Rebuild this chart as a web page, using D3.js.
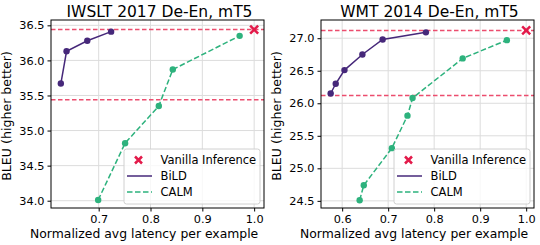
<!DOCTYPE html>
<html>
<head>
<meta charset="utf-8">
<script src="https://cdn.jsdelivr.net/npm/d3@7"></script>
<style>
body { margin: 0; background: #fff; }
svg { font-family: "DejaVu Sans", sans-serif; }
</style>
</head>
<body>
<svg id="fig" width="540" height="245"></svg>
<script>
var titles = ["IWSLT 2017 De-En, mT5", "WMT 2014 De-En, mT5"];

var iwsltBild = [[0.627, 35.67], [0.638, 36.13], [0.678, 36.28], [0.724, 36.41]];
var iwsltCalm = [[0.699, 34.01], [0.751, 34.82], [0.816, 35.35], [0.843, 35.87], [0.972, 36.35]];
var iwsltVanilla = [1.0, 36.44];

var wmtBild = [[0.575, 26.15], [0.586, 26.30], [0.605, 26.51], [0.644, 26.75], [0.688, 26.98], [0.782, 27.09]];
var wmtCalm = [[0.638, 24.51], [0.647, 24.74], [0.708, 25.31], [0.742, 25.81], [0.753, 26.08], [0.862, 26.69], [0.958, 26.97]];
var wmtVanilla = [1.0, 27.12];

var iwsltXTicks = [0.7, 0.8, 0.9, 1.0], iwsltYTicks = [34.0, 34.5, 35.0, 35.5, 36.0, 36.5];
var wmtXTicks = [0.6, 0.7, 0.8, 0.9, 1.0], wmtYTicks = [24.5, 25.0, 25.5, 26.0, 26.5, 27.0];

var panels = [
	{left: 51, bild: iwsltBild, calm: iwsltCalm, vanilla: iwsltVanilla,
	 xdom: [0.608, 1.019], ydom: [33.896, 36.576], xt: iwsltXTicks, yt: iwsltYTicks},
	{left: 321, bild: wmtBild, calm: wmtCalm, vanilla: wmtVanilla,
	 xdom: [0.554, 1.017], ydom: [24.39, 27.28], xt: wmtXTicks, yt: wmtYTicks}
];

var purple = "#46287a", green = "#2db27d", red = "#e31a4a", refRed = "#ec4d6e";
var vis = d3.select("#fig"),
	w = 213, h = 188, plotTop = 20;

panels.forEach(function(p, i){
	var g = vis.append("g").attr("transform", "translate(" + p.left + "," + plotTop + ")");
	var x = d3.scaleLinear().domain(p.xdom).range([0, w]),
		y = d3.scaleLinear().domain(p.ydom).range([h, 0]);

	// grid
	g.selectAll(".gx").data(p.xt).enter().append("line")
		.attr("x1", function(d){return x(d);}).attr("x2", function(d){return x(d);})
		.attr("y1", 0).attr("y2", h).attr("stroke", "#dcdcdc").attr("stroke-width", 1);
	g.selectAll(".gy").data(p.yt).enter().append("line")
		.attr("y1", function(d){return y(d);}).attr("y2", function(d){return y(d);})
		.attr("x1", 0).attr("x2", w).attr("stroke", "#dcdcdc").attr("stroke-width", 1);

	// reference lines: vanilla and vanilla - 1
	[p.vanilla[1], p.vanilla[1] - 1].forEach(function(v){
		g.append("line").attr("x1", 0).attr("x2", w)
			.attr("y1", y(v)).attr("y2", y(v))
			.attr("stroke", refRed).attr("stroke-width", 1.5).attr("stroke-dasharray", "4.5,2.5");
	});

	var line = d3.line().x(function(d){return x(d[0]);}).y(function(d){return y(d[1]);});

	g.append("path").datum(p.calm).attr("d", line).attr("fill", "none")
		.attr("stroke", green).attr("stroke-width", 1.5).attr("stroke-dasharray", "5.5,2.5");
	g.selectAll(".pc").data(p.calm).enter().append("circle")
		.attr("cx", function(d){return x(d[0]);}).attr("cy", function(d){return y(d[1]);})
		.attr("r", 3.2).attr("fill", green);

	g.append("path").datum(p.bild).attr("d", line).attr("fill", "none")
		.attr("stroke", purple).attr("stroke-width", 1.5);
	g.selectAll(".pb").data(p.bild).enter().append("circle")
		.attr("cx", function(d){return x(d[0]);}).attr("cy", function(d){return y(d[1]);})
		.attr("r", 3.2).attr("fill", purple);

	// vanilla marker
	var vx = x(p.vanilla[0]), vy = y(p.vanilla[1]), s = 4;
	g.append("path").attr("d", "M" + (vx - s) + "," + (vy - s) + "L" + (vx + s) + "," + (vy + s) +
		"M" + (vx - s) + "," + (vy + s) + "L" + (vx + s) + "," + (vy - s))
		.attr("stroke", red).attr("stroke-width", 2.5);

	// axes
	var xa = g.append("g").attr("transform", "translate(0," + h + ")")
		.call(d3.axisBottom(x).tickValues(p.xt).tickFormat(d3.format(".1f")).tickSize(3.5).tickPadding(3));
	var ya = g.append("g")
		.call(d3.axisLeft(y).tickValues(p.yt).tickFormat(d3.format(".1f")).tickSize(3.5).tickPadding(3));
	[xa, ya].forEach(function(a){
		a.select(".domain").remove();
		a.selectAll("text").attr("font-size", 11.3).attr("fill", "#000").attr("font-family", "DejaVu Sans");
		a.selectAll("line").attr("stroke", "#000");
	});
	g.append("rect").attr("width", w).attr("height", h).attr("fill", "none")
		.attr("stroke", "#000").attr("stroke-width", 1);

	// legend
	var lg = g.append("g").attr("transform", "translate(" + (w - 140) + "," + (h - 59) + ")");
	lg.append("rect").attr("width", 136).attr("height", 55).attr("rx", 2.5)
		.attr("fill", "#fff").attr("fill-opacity", 0.8).attr("stroke", "#d0d0d0");
	var ly = [11, 27, 43];
	lg.append("path").attr("d", "M11," + (ly[0] - 3.5) + "L18," + (ly[0] + 3.5) + "M11," + (ly[0] + 3.5) + "L18," + (ly[0] - 3.5))
		.attr("stroke", red).attr("stroke-width", 2.5);
	lg.append("line").attr("x1", 3).attr("x2", 28).attr("y1", ly[1]).attr("y2", ly[1])
		.attr("stroke", purple).attr("stroke-width", 1.5);
	lg.append("line").attr("x1", 3).attr("x2", 28).attr("y1", ly[2]).attr("y2", ly[2])
		.attr("stroke", green).attr("stroke-width", 1.5).attr("stroke-dasharray", "5.5,2.5");
	["Vanilla Inference", "BiLD", "CALM"].forEach(function(t, k){
		lg.append("text").attr("x", 36.5).attr("y", ly[k]).attr("dy", "0.35em")
			.attr("font-size", 11.5).text(t);
	});

	// labels
	g.append("text").attr("x", w / 2 + 2).attr("y", -3.5).attr("text-anchor", "middle")
		.attr("font-size", 15.5).text(titles[i]);
	g.append("text").attr("x", -21).attr("y", h + 29.5).attr("text-anchor", "start")
		.attr("font-size", 12.4).text("Normalized avg latency per example");
	g.append("text").attr("transform", "translate(-40," + (h / 2 + 2) + ") rotate(-90)")
		.attr("text-anchor", "middle").attr("font-size", 12.6).text("BLEU (higher better)");
});
</script>
</body>
</html>
